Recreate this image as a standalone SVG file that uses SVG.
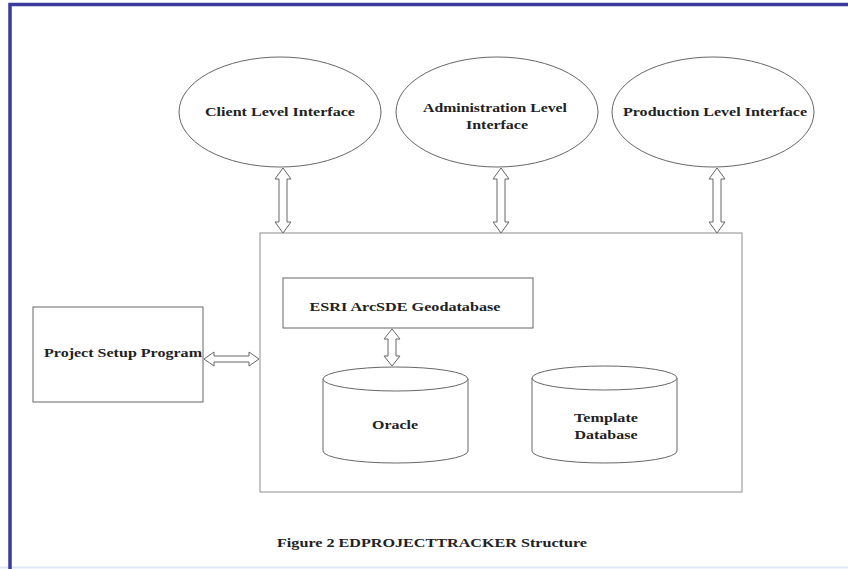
<svg xmlns="http://www.w3.org/2000/svg" width="848" height="569" viewBox="0 0 848 569">
<style>
.shape{fill:#fff;stroke:#666;stroke-width:1}
.box{fill:none;stroke:#a0a0a0;stroke-width:1.2}
.arr{fill:#fff;stroke:#666;stroke-width:1}
text{font-family:'Liberation Serif','DejaVu Serif','Times New Roman',serif;font-weight:700;font-size:13px;fill:#222;text-anchor:middle}
</style>
<rect x="0" y="0" width="848" height="569" fill="#fff"/>
<line x1="0" y1="567.5" x2="848" y2="567.5" stroke="#dfe7f6" stroke-width="2"/>
<path d="M10,569 V4.5 H848" fill="none" stroke="#3b3b9c" stroke-width="3.5"/>

<g id="container">
<rect class="box" x="260" y="233" width="482" height="259"/>
</g>

<g id="client">
<ellipse class="shape" cx="280" cy="112" rx="101" ry="55"/>
<text x="280" y="116" textLength="150" lengthAdjust="spacingAndGlyphs">Client Level Interface</text>
</g>
<g id="admin">
<ellipse class="shape" cx="497" cy="112" rx="101" ry="55"/>
<text x="495" y="112" textLength="144" lengthAdjust="spacingAndGlyphs">Administration Level</text>
<text x="497" y="129" textLength="62" lengthAdjust="spacingAndGlyphs">Interface</text>
</g>
<g id="production">
<ellipse class="shape" cx="713" cy="112" rx="101" ry="55"/>
<text x="715" y="116" textLength="184" lengthAdjust="spacingAndGlyphs">Production Level Interface</text>
</g>

<g id="project-setup">
<rect class="shape" x="33" y="307" width="170" height="95"/>
<text x="123" y="357" textLength="158" lengthAdjust="spacingAndGlyphs">Project Setup Program</text>
</g>

<g id="esri">
<rect class="shape" x="283" y="278" width="250" height="50"/>
<text x="405" y="311" textLength="191" lengthAdjust="spacingAndGlyphs">ESRI ArcSDE Geodatabase</text>
</g>

<g id="oracle">
<path class="shape" d="M323,379 V451 A72.5,12 0 0 0 468,451 V379"/>
<ellipse class="shape" cx="395.5" cy="379" rx="72.5" ry="12"/>
<text x="395" y="429" textLength="46" lengthAdjust="spacingAndGlyphs">Oracle</text>
</g>

<g id="template">
<path class="shape" d="M532,378 V451 A72.5,12 0 0 0 677,451 V378"/>
<ellipse class="shape" cx="604.5" cy="378" rx="72.5" ry="12"/>
<text x="606" y="422" textLength="64" lengthAdjust="spacingAndGlyphs">Template</text>
<text x="606" y="439" textLength="63" lengthAdjust="spacingAndGlyphs">Database</text>
</g>

<g id="connectors">
<path class="arr" d="M283,168 L291,179 L287,179 L287,222 L291,222 L283,233 L275,222 L279,222 L279,179 L275,179 Z"/>
<path class="arr" d="M501,168 L509,179 L505,179 L505,222 L509,222 L501,233 L493,222 L497,222 L497,179 L493,179 Z"/>
<path class="arr" d="M717,168 L725,179 L721,179 L721,222 L725,222 L717,233 L709,222 L713,222 L713,179 L709,179 Z"/>
<path class="arr" d="M392,329 L400,339 L396,339 L396,356 L400,356 L392,366 L384,356 L388,356 L388,339 L384,339 Z"/>
<path class="arr" d="M204,359 L214,352 L214,356 L249,356 L249,352 L259,359 L249,366 L249,362 L214,362 L214,366 Z"/>
</g>

<g id="caption">
<text x="432" y="547" textLength="310" lengthAdjust="spacingAndGlyphs">Figure 2 EDPROJECTTRACKER Structure</text>
</g>
</svg>
